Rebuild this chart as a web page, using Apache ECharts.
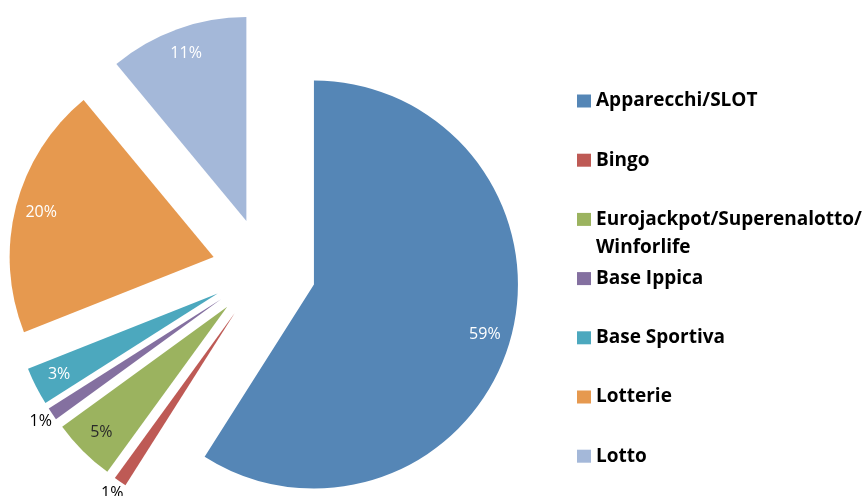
<!DOCTYPE html>
<html>
<head>
<meta charset="utf-8">
<title>Distribuzione raccolta</title>
<script src="https://cdn.jsdelivr.net/npm/echarts@6/dist/echarts.min.js"></script>
<style>
body {
  margin: 0px;
  padding: 0px;
  background: #fff;
}
#chart {
  width: 868px;
  height: 496px;
}
</style>
</head>
<body>
<div id="chart"></div>
<script>
// data (percent of total)
const categories = [
  "Apparecchi/SLOT",
  "Bingo",
  "Eurojackpot/Superenalotto/Winforlife",
  "Base Ippica",
  "Base Sportiva",
  "Lotterie",
  "Lotto",
];
const shares = [59, 1, 5, 1, 3, 20, 11];

// styles
const colors = ["#5586b6", "#be5a55", "#9bb35f", "#8470a0", "#4ca8be", "#e6994f", "#a4b8d9"];
const labelColors = ["#fff", "#000", "#2a2a2a", "#000", "#fff", "#fff", "#fff"];

const font = "'Open Sans', sans-serif";
const center = [264, 270];
const R = 204;
const offset = 52;

const pct = (p) => Math.round(p.percent) + "%";

// small slices get their label outside the pie
const isSmall = (v) => v < 2;

const labelStyle = (show, color) => ({
  show: show,
  position: "inside",
  formatter: pct,
  fontFamily: font,
  fontSize: 16,
  color: color,
});

const baseData = categories.map((name, i) => ({ name: name, value: shares[i], selected: true }));

const insideData = categories.map((name, i) => ({
  name: name,
  value: shares[i],
  selected: true,
  label: labelStyle(!isSmall(shares[i]), labelColors[i]),
}));

const outsideData = categories.map((name, i) => ({
  name: name,
  value: shares[i],
  selected: true,
  label: labelStyle(isSmall(shares[i]), labelColors[i]),
}));

const pieCommon = {
  type: "pie",
  center: center,
  startAngle: 90,
  clockwise: true,
  selectedMode: "multiple",
  selectedOffset: offset,
  animation: false,
  emphasis: { disabled: true },
  labelLine: { show: false },
};

// legend: one block per item so the wrapped entry keeps the even spacing
const legendCenter0 = 101;
const legendStep = 59.2;
const lineH = 28;

const legends = categories.map((name, i) => {
  let text = name;
  let lines = 1;
  if (name.length > 28) {
    const k = name.lastIndexOf("/");
    text = " \n" + name.slice(0, k + 1) + "\n" + name.slice(k + 1);
    lines = 3;
  }
  return {
    data: [name],
    orient: "vertical",
    left: 577,
    top: legendCenter0 + i * legendStep - (lines * lineH) / 2,
    padding: 0,
    icon: "rect",
    itemWidth: 14,
    itemHeight: 13,
    selectedMode: false,
    formatter: () => text,
    textStyle: {
      fontFamily: font,
      fontSize: 19,
      fontWeight: "bold",
      lineHeight: lineH,
      color: "#000",
    },
  };
});

const chart = echarts.init(document.getElementById("chart"), null, { renderer: "canvas" });
chart.setOption({
  backgroundColor: "#fff",
  color: colors,
  animation: false,
  legend: legends,
  series: [
    Object.assign({}, pieCommon, {
      name: "pie",
      radius: [0, R],
      label: { show: false },
      itemStyle: { borderWidth: 0 },
      data: baseData,
    }),
    Object.assign({}, pieCommon, {
      name: "inside",
      radius: [146, R],
      silent: true,
      itemStyle: { color: "rgba(0,0,0,0)", borderWidth: 0 },
      data: insideData,
    }),
    Object.assign({}, pieCommon, {
      name: "outside",
      radius: [R, 226],
      silent: true,
      itemStyle: { color: "rgba(0,0,0,0)", borderWidth: 0 },
      data: outsideData,
    }),
  ],
});
</script>
</body>
</html>
